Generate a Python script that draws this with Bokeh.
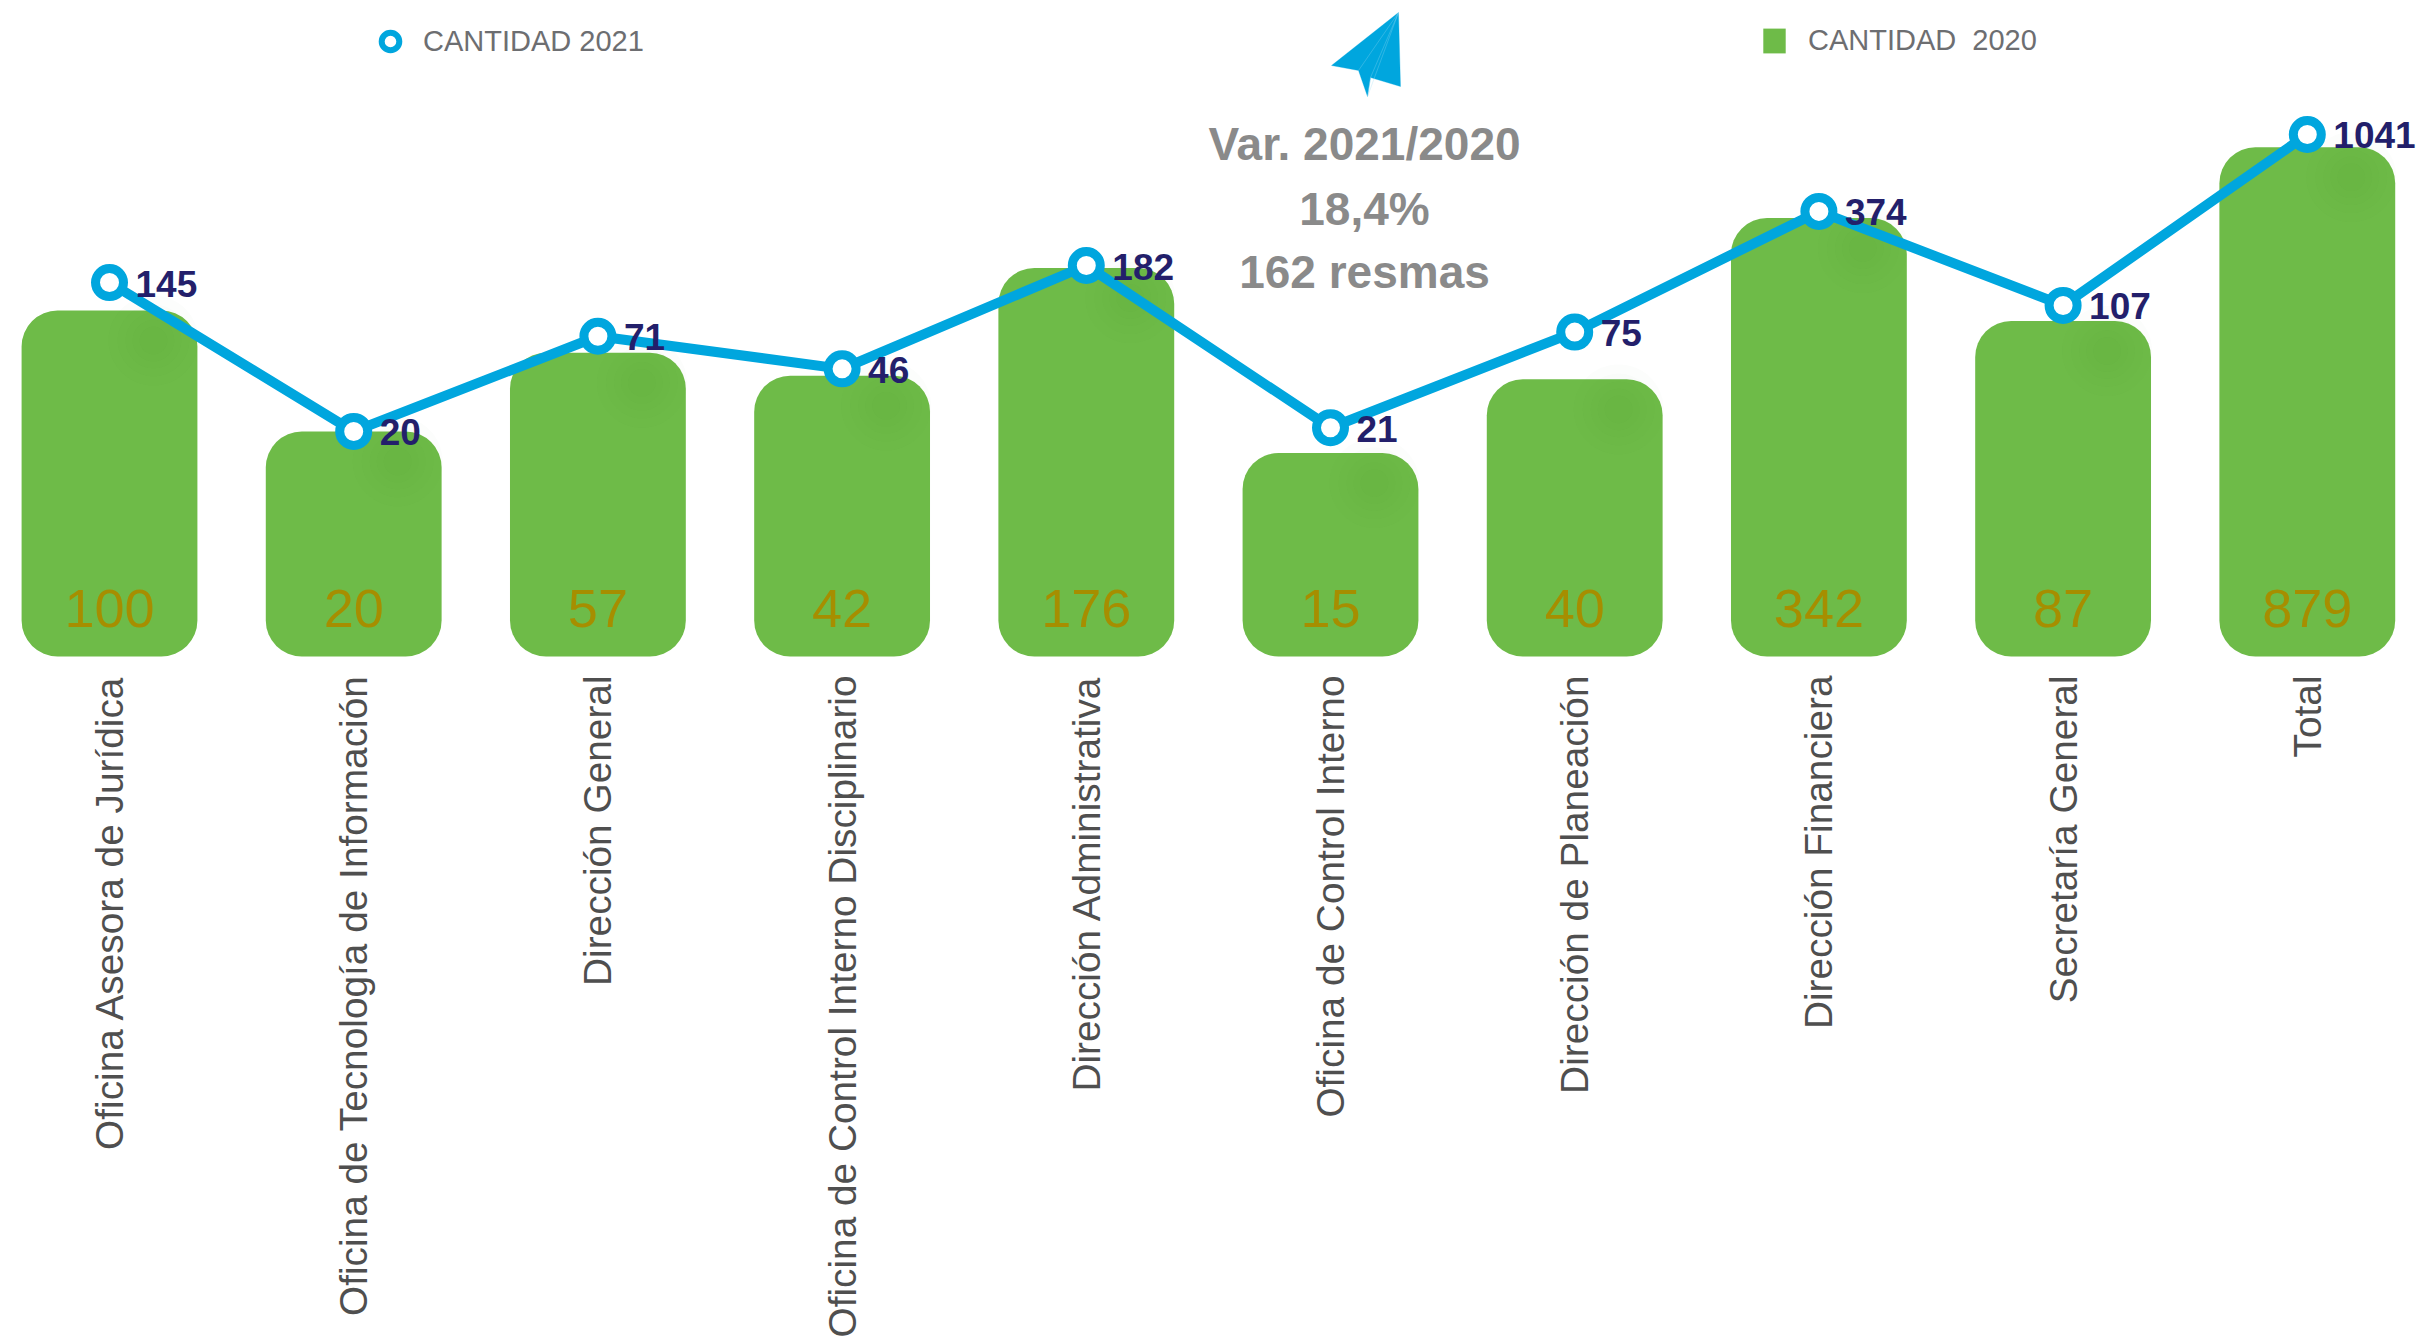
from bokeh.plotting import figure
from bokeh.models import Legend, LegendItem, Label, PolyAnnotation, Range1d, ColumnDataSource
from bokeh.core.properties import value
from bokeh.embed import file_html
from bokeh.resources import INLINE

categories = ["Oficina Asesora de Jurídica", "Oficina de Tecnología de Información", "Dirección General",
              "Oficina de Control Interno Disciplinario", "Dirección Administrativa", "Oficina de Control Interno",
              "Dirección de Planeación", "Dirección Financiera", "Secretaría General", "Total"]
cantidad_2020 = [100, 20, 57, 42, 176, 15, 40, 342, 87, 879]
cantidad_2021 = [145, 20, 71, 46, 182, 21, 75, 374, 107, 1041]
note_lines = ["Var. 2021/2020", "18,4%", "162 resmas"]

FONT = "Liberation Sans"
GREEN, BLUE = "#6EBB48", "#00A6DE"
W, H = 2417, 1342
X0, DX, Y0, DEC = 109.0, 244.2, 656.0, 173.0   # px of first bar, spacing, baseline, px per decade

idx = list(range(len(categories)))
src = ColumnDataSource(dict(x=idx, cat=categories, v20=cantidad_2020, v21=cantidad_2021,
                            t20=[str(v) for v in cantidad_2020], t21=[str(v) for v in cantidad_2021],
                            base=[1] * len(idx)))

p = figure(width=W, height=H, output_backend="svg", toolbar_location=None, y_axis_type="log",
           x_range=Range1d(-X0 / DX, (W - X0) / DX),
           y_range=Range1d(10 ** ((H - Y0) / -DEC), 10 ** (Y0 / DEC)),
           min_border=0, outline_line_color=None, background_fill_color="white")
p.axis.visible = False
p.grid.visible = False

bars = p.vbar(x="x", top="v20", bottom="base", width=0.72, source=src, fill_color=GREEN, line_color=None,
              border_radius=36)

# soft shadow in the upper right of each bar
for s in (90, 72, 56, 42, 28):
    p.scatter([i + 0.18 for i in idx], [v * 0.67 for v in cantidad_2020], size=s, marker="circle",
              fill_color="#3E6B2E", fill_alpha=0.016, line_color=None)

p.text(x="x", y="base", text="t20", source=src, y_offset=-48, text_align="center", text_baseline="alphabetic",
       text_color="#A68E00", text_font=value(FONT), text_font_size="54px")

p.line(x="x", y="v21", source=src, line_color=BLUE, line_width=10)
p.scatter(x="x", y="v21", source=src, marker="circle", size=28, fill_color="white", line_color=BLUE, line_width=9)
key = p.scatter(x=[float("nan")], y=[float("nan")], marker="circle", size=18, fill_color="white", line_color=BLUE, line_width=6)

p.text(x="x", y="v21", text="t21", source=src, x_offset=26, y_offset=1, text_align="left", text_baseline="middle",
       text_color="#231F6B", text_font=value(FONT), text_font_style="bold", text_font_size="37px")

p.text(x="x", y="base", text="cat", source=src, angle=1.5708, y_offset=19, text_align="right", text_baseline="middle",
       text_color="#4F4F4F", text_font=value(FONT), text_font_size="38.8px")

leg1 = Legend(items=[LegendItem(label="CANTIDAD 2021", renderers=[key])], location=(368, 1279), orientation="horizontal",
              padding=0, margin=0, border_line_color=None, background_fill_alpha=0, glyph_width=44, glyph_height=44,
              label_standoff=11, label_text_font=FONT, label_text_font_size="29px", label_text_color="#6D6E71")
leg2 = Legend(items=[LegendItem(label="CANTIDAD  2020", renderers=[bars])], location=(1760, 1285), orientation="horizontal",
              padding=0, margin=0, border_line_color=None, background_fill_alpha=0, glyph_width=28, glyph_height=31,
              label_standoff=20, label_text_font=FONT, label_text_font_size="29px", label_text_color="#6D6E71")
p.add_layout(leg1)
p.add_layout(leg2)

# paper plane, in page pixels
def page(xs, ys):
    return list(xs), [H - y for y in ys]
px, py = page([1398, 1400, 1370, 1367, 1358, 1331], [12, 86, 77, 96, 70, 65])
p.add_layout(PolyAnnotation(xs=px, ys=py, xs_units="screen", ys_units="screen", fill_color=BLUE, fill_alpha=1, line_color=BLUE, line_width=1))
fx, fy = page([1398, 1358], [12, 70])
p.add_layout(PolyAnnotation(xs=fx, ys=fy, xs_units="screen", ys_units="screen", fill_alpha=0, line_color="#9ADCF3", line_width=1))
fx, fy = page([1398, 1370, 1367], [12, 77, 96])
p.add_layout(PolyAnnotation(xs=fx, ys=fy, xs_units="screen", ys_units="screen", fill_alpha=0, line_color="#9ADCF3", line_width=1))

for text, y in zip(note_lines, (143, 208, 271)):
    p.add_layout(Label(x=1364, y=H - y, x_units="screen", y_units="screen", text=text, text_align="center",
                       text_baseline="middle", text_font=FONT, text_font_style="bold", text_font_size="46px",
                       text_color="#8A8A8A"))

open("out.html", "w").write(file_html(p, INLINE))
